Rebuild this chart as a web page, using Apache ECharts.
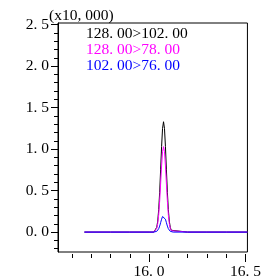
<!DOCTYPE html>
<html>
<head>
<meta charset="utf-8">
<script src="https://cdn.jsdelivr.net/npm/echarts@6/dist/echarts.min.js"></script>
<style>html,body{margin:0;padding:0;background:#fff;}#c{width:264px;height:280px;}</style>
</head>
<body>
<div id="c"></div>
<script>
// Retention time (min)
const times = [15.665, 15.8, 15.9, 16.0, 16.025, 16.03, 16.035, 16.04, 16.045, 16.05, 16.055, 16.06, 16.065, 16.07, 16.075, 16.08, 16.085, 16.09, 16.095, 16.1, 16.105, 16.11, 16.115, 16.12, 16.125, 16.2, 16.3, 16.4, 16.51];
// Intensities (x10,000)
const seriesNames = ['128. 00>102. 00', '128. 00>78. 00', '102. 00>76. 00'];
const seriesColors = ['#000000', '#ff00ff', '#0000ff'];
const black   = [0, 0, 0, 0, 0, 0.008, 0.022, 0.058, 0.133, 0.27, 0.48, 0.75, 1.03, 1.25, 1.33, 1.25, 1.03, 0.75, 0.48, 0.27, 0.133, 0.058, 0.022, 0.008, 0, 0, 0, 0, 0];
const magenta = [0, 0, 0, 0, 0, 0.006, 0.017, 0.045, 0.103, 0.209, 0.372, 0.581, 0.798, 0.969, 1.03, 0.969, 0.798, 0.581, 0.372, 0.209, 0.103, 0.045, 0.017, 0.006, 0, 0, 0, 0, 0];
const blue    = [0, 0, 0, 0, 0, 0.001, 0.003, 0.009, 0.02, 0.041, 0.072, 0.113, 0.155, 0.188, 0.2, 0.188, 0.155, 0.113, 0.072, 0.041, 0.02, 0.009, 0.003, 0.001, 0, 0, 0, 0, 0];
const xMinorTicks = [15.6, 15.7, 15.8, 15.9, 16.1, 16.2, 16.3, 16.4];
const xLabels = [16.0, 16.5];
const yMajor = [0, 0.5, 1.0, 1.5, 2.0, 2.5];
const yMinor = [-0.2, -0.1, 0.1, 0.2, 0.3, 0.4, 0.6, 0.7, 0.8, 0.9, 1.1, 1.2, 1.3, 1.4, 1.6, 1.7, 1.8, 1.9, 2.1, 2.2, 2.3, 2.4];
const scaleLabel = '(x10, 000)';

const FONT = 'Liberation Serif';
const FS = 15.5;
const fmt = v => v.toFixed(1).replace('.', '. ');
const allData = [black, magenta, blue];

const chart = echarts.init(document.getElementById('c'), null, {renderer: 'canvas'});
const xBase = {
  type: 'value', min: 15.528, max: 16.51, position: 'bottom', offset: 2,
  splitLine: {show: false},
  axisLine: {show: false, onZero: false}
};
const yBase = {
  type: 'value', min: -0.24, max: 2.52, position: 'left',
  splitLine: {show: false}
};
chart.setOption({
  animation: false,
  grid: {left: 58, top: 23, width: 193, height: 232, show: true, borderColor: '#000', borderWidth: 1},
  xAxis: [
    Object.assign({}, xBase, {
      axisTick: {show: true, length: 8, customValues: xLabels, lineStyle: {color: '#000'}},
      axisLabel: {customValues: xLabels, formatter: fmt, color: '#000', fontFamily: FONT, fontSize: FS, margin: 10}
    }),
    Object.assign({}, xBase, {
      axisTick: {show: true, length: 4, customValues: xMinorTicks, lineStyle: {color: '#000'}},
      axisLabel: {show: false}
    })
  ],
  yAxis: [
    Object.assign({}, yBase, {
      axisLine: {show: true, onZero: false, lineStyle: {color: '#000'}},
      axisTick: {show: true, length: 7, customValues: yMajor, lineStyle: {color: '#000'}},
      axisLabel: {customValues: yMajor, formatter: fmt, color: '#000', fontFamily: FONT, fontSize: FS, margin: 9}
    }),
    Object.assign({}, yBase, {
      axisLine: {show: false, onZero: false},
      axisTick: {show: true, length: 4, customValues: yMinor, lineStyle: {color: '#000'}},
      axisLabel: {show: false}
    })
  ],
  graphic: [
    {type: 'text', left: 49, top: 8, style: {text: scaleLabel, fill: '#000', font: FS + 'px "' + FONT + '"'}}
  ].concat(seriesNames.map((n, i) => ({
    type: 'text', left: 86, top: 26 + i * 16,
    style: {text: n, fill: seriesColors[i], font: FS + 'px "' + FONT + '"'}
  }))),
  series: seriesNames.map((n, i) => ({
    name: n, type: 'line', showSymbol: false, symbol: 'none',
    xAxisIndex: 0, yAxisIndex: 0,
    lineStyle: {color: seriesColors[i], width: 1},
    data: times.map((t, k) => [t, allData[i][k]])
  }))
});
</script>
</body>
</html>
